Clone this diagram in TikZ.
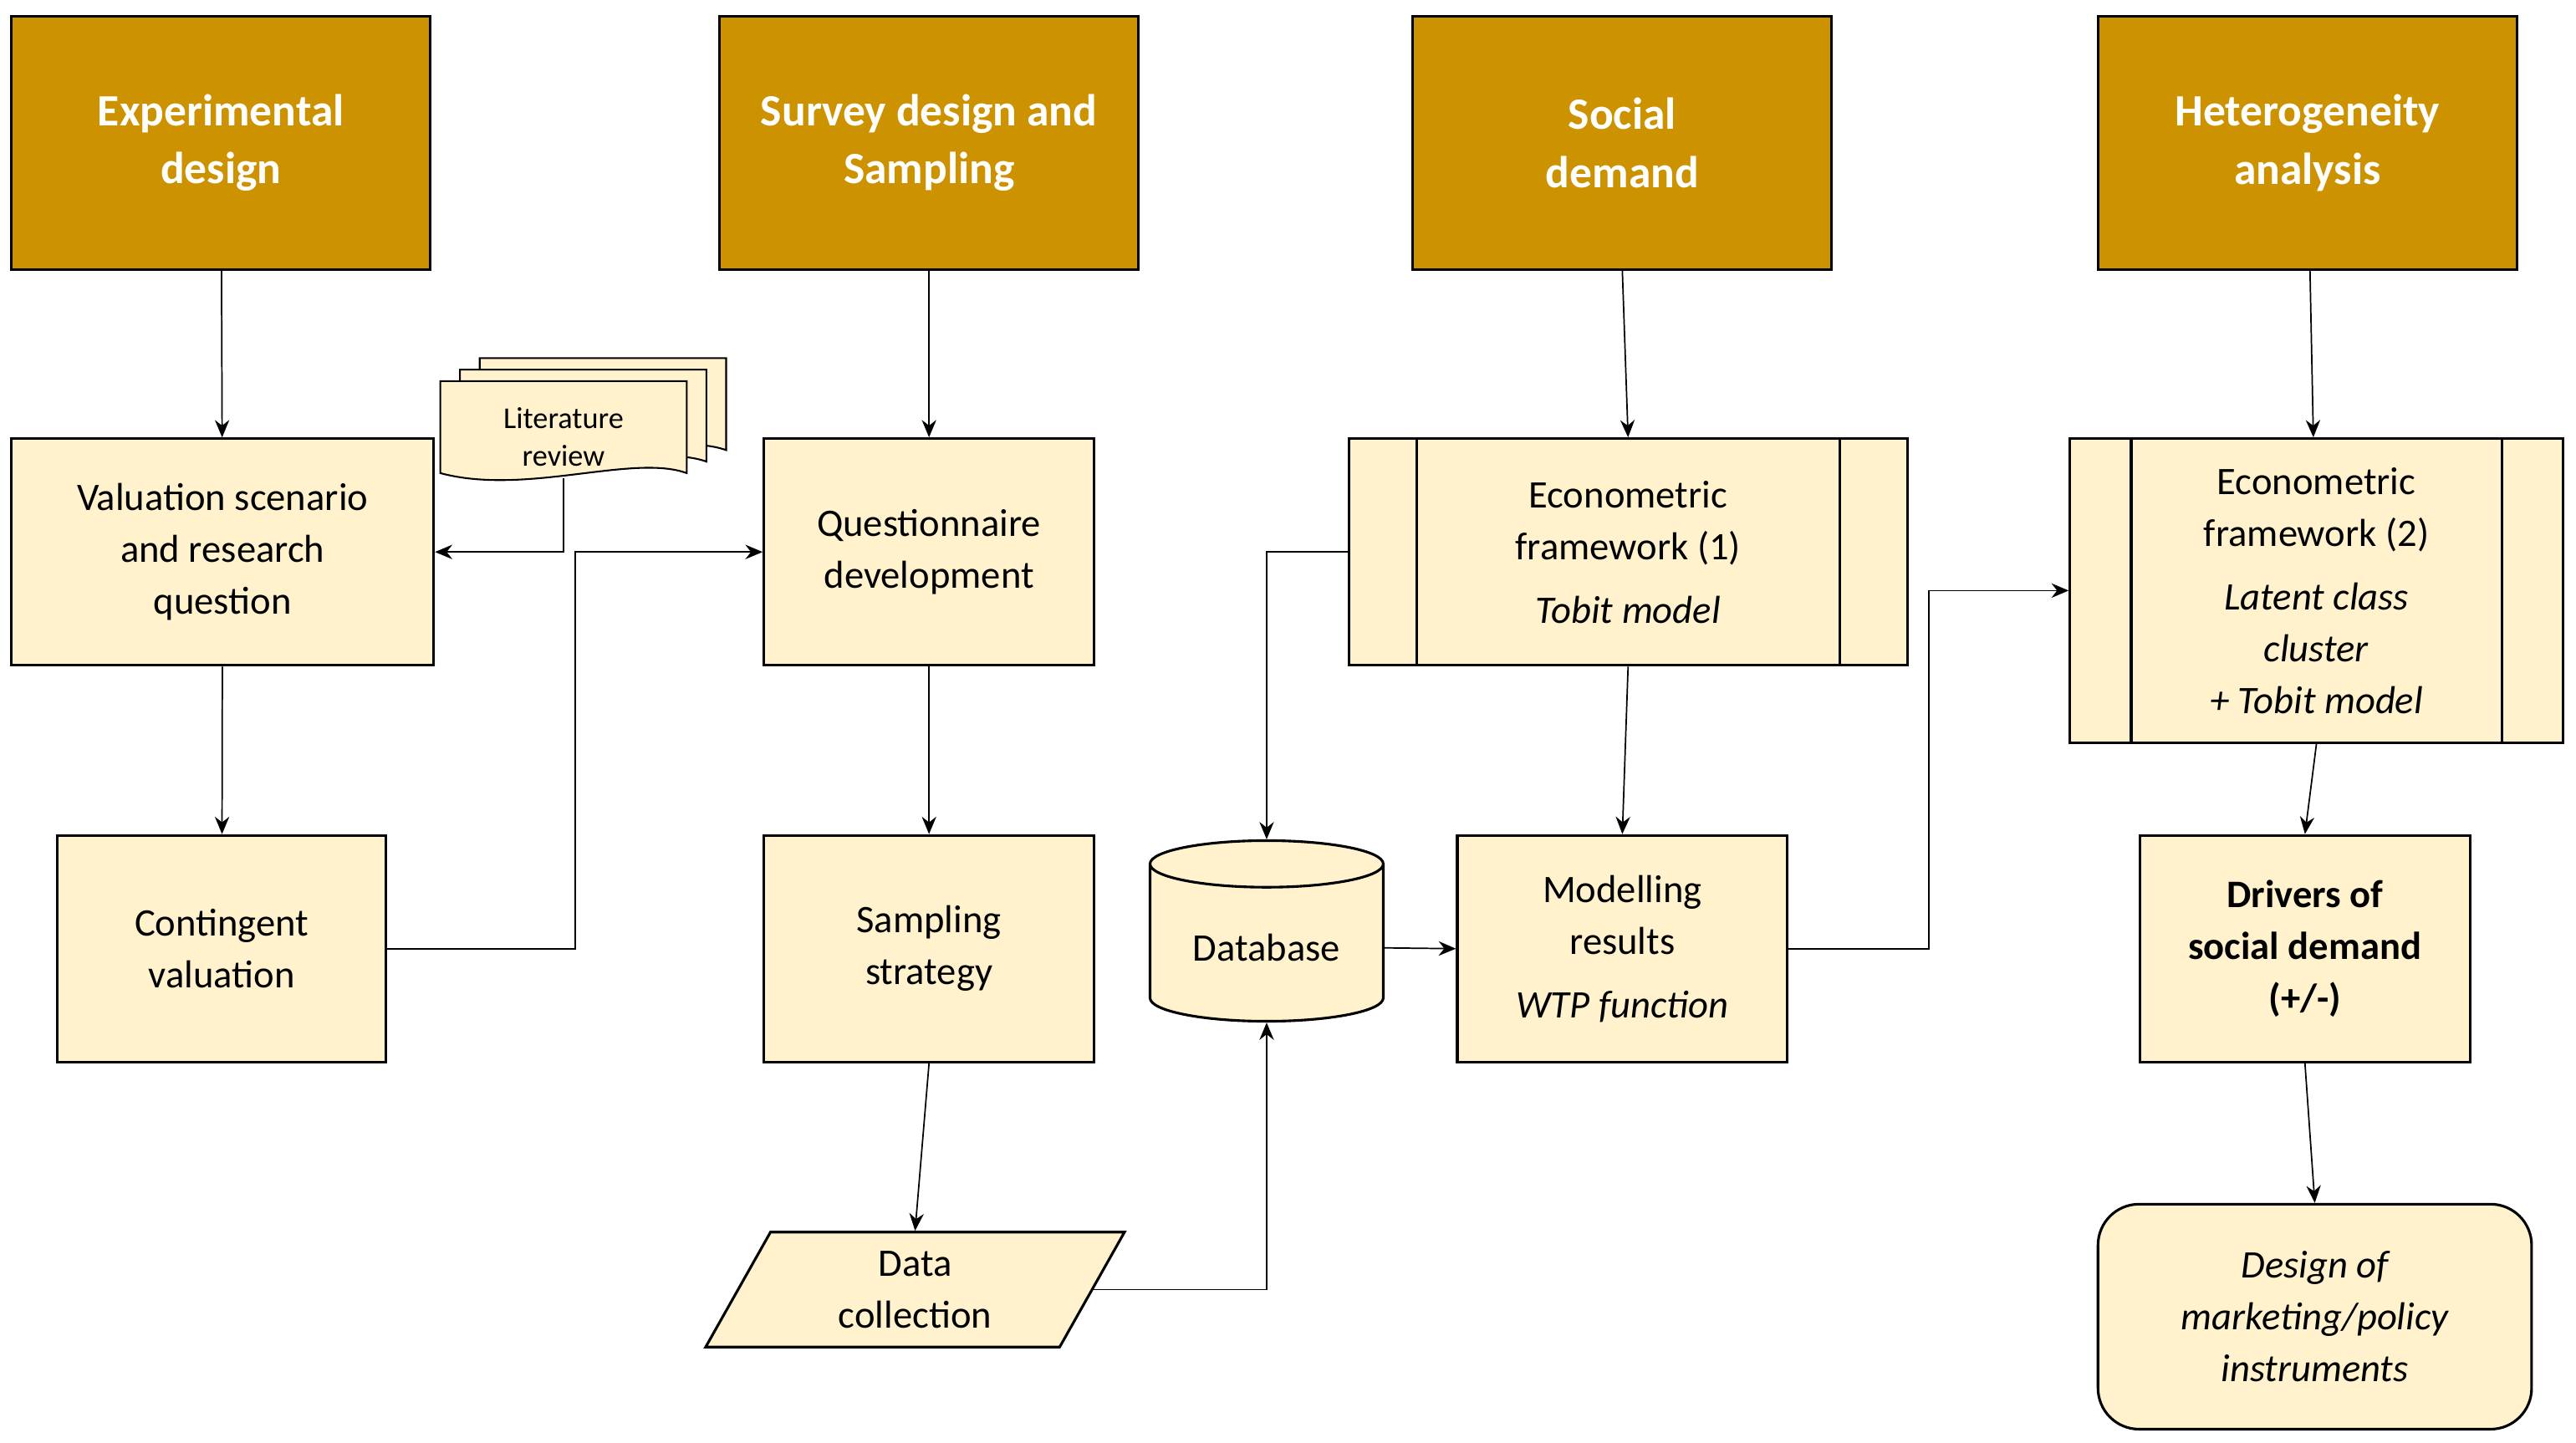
\documentclass[tikz,border=0pt]{standalone}
\usepackage{fontspec}
\setmainfont{Carlito}
\usetikzlibrary{positioning, shapes.geometric, arrows.meta}
\definecolor{headgold}{RGB}{204,146,0}
\definecolor{boxfill}{RGB}{255,242,204}
\begin{document}
\begin{tikzpicture}[
x=0.02cm, y=-0.02cm,
head/.style={rectangle,
  draw=black, line width=0.9pt,
  fill=headgold,
  text=white,
  font=\fontsize{15.5}{20}\selectfont\bfseries,
  align=center,
  minimum width=5.1cm, minimum height=3.08cm
},
procbox/.style={rectangle,
  draw=black, line width=0.9pt,
  fill=boxfill,
  font=\fontsize{13.5}{18}\selectfont,
  align=center,
  minimum width=4.02cm, minimum height=2.76cm
},
arr/.style={-{Stealth[length=6pt,width=5pt]}, line width=0.5pt},
]
\useasboundingbox (0,0) rectangle (1568,878);

% headers
\node[head] (h1) at (134.5,87) {Experimental\\design};
\node[head] (h2) at (565.5,87) {Survey design and\\Sampling};
\node[head] (h3) at (987.5,87) {Social\\demand};
\node[head] (h4) at (1404.5,87) {Heterogeneity\\analysis};

% column 1
\node[procbox, minimum width=5.14cm] (val) at (135.5,336)
    {Valuation scenario\\and research\\question};
\node[procbox, minimum width=4cm] (cv) at (135,577.5)
    {Contingent\\valuation};

% literature review stack
\foreach \d in {2,1,0}
  \draw[fill=boxfill, line width=0.6pt, shift={(\d*12,-\d*7)}]
    (268,232) -- (418,232) -- (418,288)
    .. controls (385,276) and (320,302) .. (268,288) -- cycle;
\node[font=\fontsize{10.5}{13}\selectfont, align=center] (lit) at (343,266)
    {Literature\\review};
\coordinate (litb) at (343,291);

% column 2
\node[procbox] (qd) at (565.5,336) {Questionnaire\\development};
\node[procbox] (ss) at (565.5,577.5) {Sampling\\strategy};
\node[trapezium, trapezium left angle=52, trapezium right angle=128,
  trapezium stretches body, draw=black, line width=0.9pt, fill=boxfill,
  font=\fontsize{13.5}{18}\selectfont, align=center,
  minimum width=5.1cm, minimum height=1.4cm, inner sep=1pt] (dc) at (557,785)
    {Data\\collection};

% database
\node[cylinder, shape border rotate=90, aspect=0.28, draw=black,
  line width=0.9pt, fill=boxfill, font=\fontsize{13.5}{18}\selectfont,
  minimum width=2.84cm, minimum height=2.2cm] (db) at (771,577) {Database};

% column 3
\node[procbox, minimum width=6.8cm] (e1) at (991,336)
    {Econometric\\framework (1)\\[4pt]\textit{Tobit model}};
\draw[line width=0.9pt] ([xshift=0.84cm]e1.north west) -- ([xshift=0.84cm]e1.south west);
\draw[line width=0.9pt] ([xshift=-0.84cm]e1.north east) -- ([xshift=-0.84cm]e1.south east);
\node[procbox] (mr) at (987.5,577.5)
    {Modelling\\results\\[4pt]\textit{WTP function}};

% column 4
\node[procbox, minimum width=6cm, minimum height=3.7cm] (e2) at (1410,359.5)
    {Econometric\\framework (2)\\[4pt]\textit{Latent class}\\\textit{cluster}\\\textit{+ Tobit model}};
\draw[line width=0.9pt] ([xshift=0.76cm]e2.north west) -- ([xshift=0.76cm]e2.south west);
\draw[line width=0.9pt] ([xshift=-0.76cm]e2.north east) -- ([xshift=-0.76cm]e2.south east);
\node[procbox, font=\fontsize{13.5}{18}\selectfont\bfseries] (dr) at (1403,577.5)
    {Drivers of\\social demand\\(+/-)};
\node[procbox, rounded corners=0.5cm, minimum width=5.28cm, minimum height=2.74cm,
  font=\fontsize{13.5}{18}\selectfont\itshape] (dm) at (1409,801.5)
    {Design of\\marketing/policy\\instruments};

% junctions
\coordinate (jn1) at (350,450);
\coordinate (jn2) at (1174,450);

% connectors
\draw[arr] (h1) -- (val);
\draw[arr] (val) -- (cv);
\draw[arr] (litb) |- (val.east);
\draw[arr] (cv.east) -| (jn1) |- (qd.west);
\draw[arr] (h2) -- (qd);
\draw[arr] (qd) -- (ss);
\draw[arr] (ss.south) -- (dc.north);
\draw[arr] (dc.east) -| (db.south);
\draw[arr] (e1.west) -| (db.north);
\draw[arr] (db.east) -- (mr.west);
\draw[arr] (h3.south) -- (e1.north);
\draw[arr] (e1.south) -- (mr.north);
\draw[arr] (mr.east) -| (jn2) |- (e2.west);
\draw[arr] (h4) -- (e2);
\draw[arr] (e2.south) -- (dr.north);
\draw[arr] (dr.south) -- (dm.north);
\end{tikzpicture}
\end{document}
